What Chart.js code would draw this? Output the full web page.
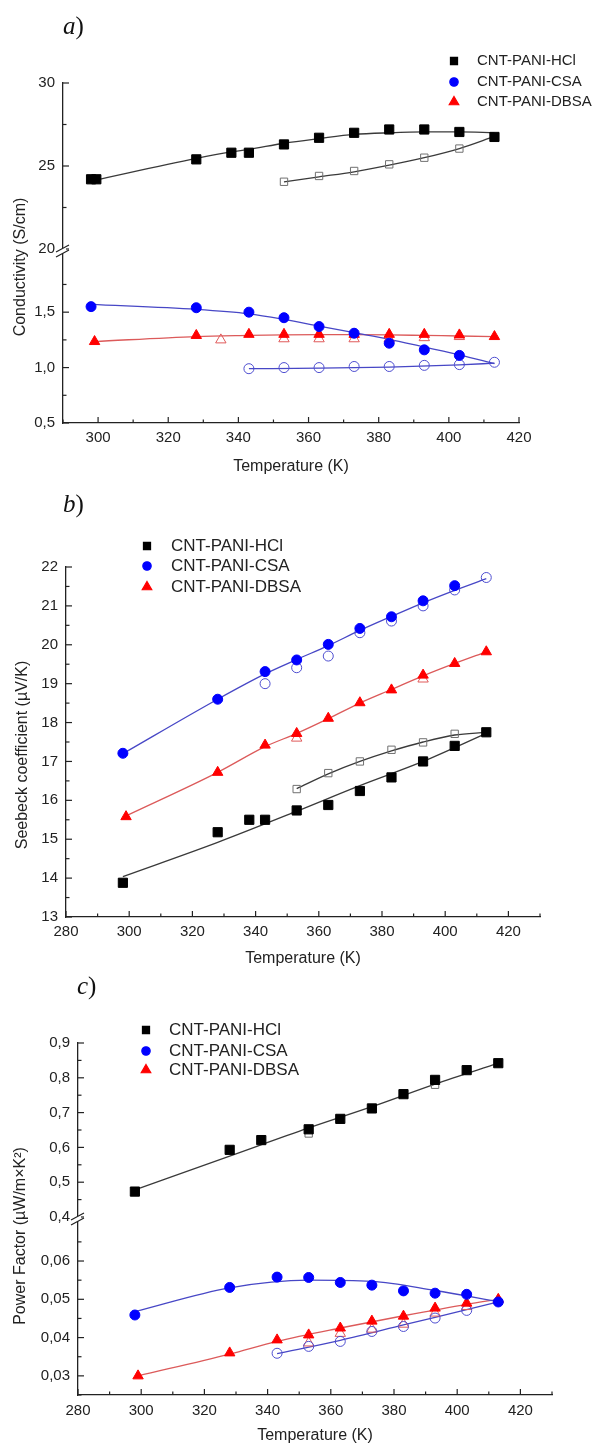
<!DOCTYPE html>
<html>
<head>
<meta charset="utf-8">
<script src="https://cdn.jsdelivr.net/npm/chart.js@4.4.1/dist/chart.umd.min.js"></script>
<style>
html, body { margin: 0; padding: 0; background: #fff; overflow: hidden; }
#page { position: relative; width: 603px; height: 1444px; }
canvas { position: absolute; left: 0; }
.tag { position: absolute; font-family: "Liberation Serif", "Times New Roman", serif; font-size: 25px; line-height: 25px; color: #111; }
</style>
</head>
<body>
<div id="page">
  <canvas id="chartA" width="603" height="480" style="top:0px"></canvas>
  <canvas id="chartB" width="603" height="490" style="top:480px"></canvas>
  <canvas id="chartC" width="603" height="474" style="top:970px"></canvas>
  <div class="tag" style="left:63px;top:13px"><i>a</i>)</div>
  <div class="tag" style="left:63px;top:491px"><i>b</i>)</div>
  <div class="tag" style="left:77px;top:973px"><i>c</i>)</div>
</div>
<script>
// ---- a) conductivity, S/cm ----
const tempA_HCl = [298, 299.5, 328, 338, 343, 353, 363, 373, 383, 393, 403, 413];
const condA_HCl = [24.2, 24.2, 25.4, 25.8, 25.8, 26.3, 26.7, 27.0, 27.2, 27.2, 27.05, 26.75];
const tempA_HCl_cool = [353, 363, 373, 383, 393, 403];
const condA_HCl_cool = [24.05, 24.4, 24.7, 25.1, 25.5, 26.05];
const fitTempA_HCl = [298.5, 328, 338, 343, 353, 363, 373, 383, 393, 403, 413];
const fitA_HCl = [24.12, 25.46, 25.85, 26.0, 26.37, 26.65, 26.9, 27.0, 27.05, 27.05, 27.0];
const fitTempA_HCl_cool = [353, 363, 373, 383, 393, 403, 413];
const fitA_HCl_cool = [24.05, 24.35, 24.65, 25.05, 25.5, 26.05, 26.78];

const tempA_CSA = [298, 328, 343, 353, 363, 373, 383, 393, 403];
const condA_CSA = [1.55, 1.54, 1.50, 1.45, 1.37, 1.31, 1.22, 1.16, 1.11];
const tempA_CSA_cool = [343, 353, 363, 373, 383, 393, 403, 413];
const condA_CSA_cool = [0.99, 1.0, 1.0, 1.01, 1.01, 1.02, 1.027, 1.048];
const fitTempA_CSA = [298, 328, 343, 353, 363, 373, 383, 393, 403, 413];
const fitA_CSA = [1.57, 1.525, 1.485, 1.435, 1.375, 1.315, 1.255, 1.185, 1.115, 1.035];
const fitTempA_CSA_cool = [343, 363, 383, 403, 413];
const fitA_CSA_cool = [0.99, 0.995, 1.005, 1.025, 1.04];

const tempA_DBSA = [299, 328, 343, 353, 363, 373, 383, 393, 403, 413];
const condA_DBSA = [1.235, 1.29, 1.30, 1.30, 1.30, 1.30, 1.30, 1.30, 1.295, 1.28];
const tempA_DBSA_cool = [335, 353, 363, 373, 383, 393, 403];
const condA_DBSA_cool = [1.25, 1.26, 1.26, 1.26, 1.26, 1.27, 1.28];
const fitTempA_DBSA = [299, 328, 343, 353, 363, 373, 383, 393, 403, 413];
const fitA_DBSA = [1.235, 1.28, 1.29, 1.295, 1.297, 1.297, 1.295, 1.29, 1.285, 1.28];

// ---- b) Seebeck coefficient, uV/K ----
const tempB_HCl = [298, 328, 338, 343, 353, 363, 373, 383, 393, 403, 413];
const seebB_HCl = [13.88, 15.18, 15.5, 15.5, 15.74, 15.88, 16.24, 16.59, 17.0, 17.4, 17.75];
const tempB_HCl_cool = [353, 363, 373, 383, 393, 403];
const seebB_HCl_cool = [16.29, 16.7, 17.0, 17.3, 17.49, 17.71];
const fitTempB_HCl = [298, 328, 353, 373, 393, 413];
const fitB_HCl = [14.04, 14.92, 15.72, 16.38, 17.0, 17.72];
const fitTempB_HCl_cool = [353, 363, 373, 383, 393, 403, 413];
const fitB_HCl_cool = [16.3, 16.68, 17.0, 17.27, 17.5, 17.68, 17.75];

const tempB_CSA = [298, 328, 343, 353, 363, 373, 383, 393, 403];
const seebB_CSA = [17.21, 18.6, 19.31, 19.61, 20.01, 20.42, 20.72, 21.13, 21.52];
const tempB_CSA_cool = [343, 353, 363, 373, 383, 393, 403, 413];
const seebB_CSA_cool = [19.0, 19.41, 19.71, 20.31, 20.61, 21.0, 21.41, 21.73];
const fitTempB_CSA = [298, 328, 343, 353, 363, 373, 383, 393, 403, 413];
const fitB_CSA = [17.2, 18.6, 19.25, 19.62, 19.98, 20.37, 20.73, 21.08, 21.4, 21.7];

const tempB_DBSA = [299, 328, 343, 353, 363, 373, 383, 393, 403, 413];
const seebB_DBSA = [15.58, 16.72, 17.42, 17.72, 18.11, 18.51, 18.84, 19.22, 19.52, 19.82];
const tempB_DBSA_cool = [353, 393];
const seebB_DBSA_cool = [17.6, 19.12];
const fitTempB_DBSA = [299, 328, 343, 353, 363, 373, 383, 393, 403, 413];
const fitB_DBSA = [15.6, 16.72, 17.38, 17.72, 18.1, 18.5, 18.85, 19.2, 19.52, 19.82];

// ---- c) power factor, uW/m*K^2 ----
const tempC_HCl = [298, 328, 338, 353, 363, 373, 383, 393, 403, 413];
const pfC_HCl = [0.473, 0.593, 0.621, 0.652, 0.682, 0.712, 0.753, 0.794, 0.822, 0.842];
const tempC_HCl_cool = [353, 393];
const pfC_HCl_cool = [0.64, 0.78];
const fitTempC_HCl = [298, 328, 353, 373, 393, 413];
const fitC_HCl = [0.478, 0.575, 0.656, 0.717, 0.782, 0.842];

const tempC_CSA = [298, 328, 343, 353, 363, 373, 383, 393, 403, 413];
const pfC_CSA = [0.0459, 0.0531, 0.0558, 0.0557, 0.0544, 0.0537, 0.0522, 0.0516, 0.0513, 0.0493];
const tempC_CSA_cool = [343, 353, 363, 373, 383, 393, 403];
const pfC_CSA_cool = [0.0359, 0.0377, 0.039, 0.0416, 0.0429, 0.0451, 0.0471];
const fitTempC_CSA = [298, 328, 353, 373, 393, 413];
const fitC_CSA = [0.0468, 0.0530, 0.0550, 0.0547, 0.0523, 0.0494];
const fitTempC_CSA_cool = [343, 363, 383, 403, 413];
const fitC_CSA_cool = [0.0358, 0.0393, 0.0433, 0.0473, 0.0493];

const tempC_DBSA = [299, 328, 343, 353, 363, 373, 383, 393, 403, 413];
const pfC_DBSA = [0.030, 0.036, 0.0394, 0.0407, 0.0425, 0.0443, 0.0456, 0.0477, 0.049, 0.050];
const tempC_DBSA_cool = [353, 363, 373, 383, 393, 403];
const pfC_DBSA_cool = [0.0386, 0.0411, 0.0422, 0.0435, 0.0464, 0.0481];
const fitTempC_DBSA = [299, 328, 343, 363, 383, 403, 413];
const fitC_DBSA = [0.030, 0.0357, 0.0390, 0.0425, 0.0457, 0.0487, 0.0500];

const LABELS = ['CNT-PANI-HCl', 'CNT-PANI-CSA', 'CNT-PANI-DBSA'];

const STY = {
    HCl:  { shape: 'rect',     fill: '#000000', open: '#707070', line: '#3a3a3a', r: 6.5, ro: 5.2, lr: 5 },
    CSA:  { shape: 'circle',   fill: '#0000ff', open: '#4d4dd0', line: '#4747c6', r: 5,   ro: 5,   lr: 4.2 },
    DBSA: { shape: 'triangle', fill: '#ff0000', open: '#e05a5a', line: '#dc5a5a', r: 6,   ro: 6,   lr: 5.5 }
};
const INK = '#222';
const FONT = '"Liberation Sans", Arial, sans-serif';
Chart.defaults.font.family = FONT;
Chart.defaults.color = INK;

function pts(xs, ys) {
    return xs.map((x, i) => ({ x: x, y: ys[i] }));
}

function filled(label, xs, ys, st, axis) {
    return { label: label, data: pts(xs, ys), yAxisID: axis, pointStyle: st.shape,
        pointRadius: st.r, pointHoverRadius: st.r, backgroundColor: st.fill, borderColor: st.fill,
        borderWidth: 1, showLine: false, order: 1, clip: false };
}

function open(xs, ys, st, axis) {
    return { label: '', data: pts(xs, ys), yAxisID: axis, pointStyle: st.shape,
        pointRadius: st.ro, pointHoverRadius: st.ro, backgroundColor: 'rgba(255,255,255,0)',
        borderColor: st.open, borderWidth: 1, showLine: false, order: 2, clip: false };
}

function fit(xs, ys, st, axis) {
    return { label: '', data: pts(xs, ys), yAxisID: axis, showLine: true, pointRadius: 0,
        pointHoverRadius: 0, borderColor: st.line, borderWidth: 1.3, tension: 0.4,
        cubicInterpolationMode: 'monotone', fill: false, order: 3 };
}

function xAxis(min, max, h, pad, titlePad, lh) {
    return {
        type: 'linear', position: 'bottom', min: min, max: max,
        grid: { display: false, drawTicks: false },
        border: { display: true, color: INK, width: 1.3 },
        ticks: { stepSize: 10, autoSkip: false, maxRotation: 0, minRotation: 0, padding: pad,
            font: { size: 15 }, color: INK,
            callback: v => (v % 20 === 0 ? String(v) : '') },
        title: { display: true, text: 'Temperature (K)', color: INK,
            font: { size: 16, lineHeight: lh }, padding: { top: 0, bottom: titlePad } },
        afterFit: s => { s.height = h; }
    };
}

function yAxis(min, max, step, w, cb, stack, weight) {
    const ax = {
        type: 'linear', position: 'left', min: min, max: max, offset: false,
        grid: { display: false, drawTicks: false },
        border: { display: true, color: INK, width: 1.3 },
        ticks: { stepSize: step, autoSkip: false, includeBounds: false, padding: 8,
            font: { size: 15 }, color: INK, callback: cb },
        title: { display: false },
        afterFit: s => { s.width = w; }
    };
    if (stack) {
        ax.stack = stack;
        ax.stackWeight = weight;
    }
    return ax;
}

// inward ticks, axis break marks, rotated y title and the legend
const decor = {
    id: 'decor',
    afterDraw(chart, args, o) {
        const ctx = chart.ctx;
        ctx.save();
        ctx.strokeStyle = INK;
        ctx.lineWidth = 1.2;
        Object.values(chart.scales).forEach(s => {
            s.ticks.forEach(t => {
                if (t.label === null || t.label === undefined) return;
                const len = t.label !== '' ? 6 : 3.5;
                const p = s.getPixelForValue(t.value);
                ctx.beginPath();
                if (s.isHorizontal()) {
                    ctx.moveTo(p, s.top);
                    ctx.lineTo(p, s.top - len);
                } else {
                    ctx.moveTo(s.right, p);
                    ctx.lineTo(s.right + len, p);
                }
                ctx.stroke();
            });
        });

        if (chart.scales.yTop) {
            const s = chart.scales.yTop;
            const x = s.right, y = s.bottom;
            ctx.fillStyle = '#fff';
            ctx.fillRect(x - 3, y - 1, 6, 5);
            ctx.beginPath();
            ctx.moveTo(x - 7, y + 3); ctx.lineTo(x + 6, y - 4);
            ctx.moveTo(x - 7, y + 8); ctx.lineTo(x + 6, y + 1);
            ctx.stroke();
        }

        ctx.save();
        ctx.translate(o.ytx, o.yty);
        ctx.rotate(-Math.PI / 2);
        ctx.font = '16px ' + FONT;
        ctx.fillStyle = INK;
        ctx.textAlign = 'center';
        ctx.textBaseline = 'middle';
        ctx.fillText(o.ytitle, 0, 0);
        ctx.restore();

        const styles = [STY.HCl, STY.CSA, STY.DBSA];
        ctx.font = o.lfont + 'px ' + FONT;
        ctx.textAlign = 'left';
        ctx.textBaseline = 'middle';
        LABELS.forEach((lab, i) => {
            const st = styles[i];
            const y = o.ly[i];
            ctx.fillStyle = st.fill;
            ctx.strokeStyle = st.fill;
            Chart.helpers.drawPoint(ctx, { pointStyle: st.shape, radius: st.lr, rotation: 0, borderWidth: 1 }, o.lx, y);
            ctx.fillStyle = INK;
            ctx.fillText(lab, o.ltx, y);
        });
        ctx.restore();
    }
};

function baseOptions(pad, scales, decorOpts) {
    return {
        responsive: false, animation: false, events: [],
        layout: { padding: pad },
        plugins: { legend: { display: false }, tooltip: { enabled: false }, decor: decorOpts },
        scales: scales
    };
}

const fmtA = v => {
    if (v > 1.9) return null;
    return Math.abs(v * 2 - Math.round(v * 2)) < 1e-6 ? v.toFixed(1).replace('.', ',') : '';
};
const fmtATop = v => (v % 5 === 0 ? String(v) : '');
const fmtB = v => (Number.isInteger(v) ? String(v) : '');
const fmtCTop = v => {
    const r = Math.round(v * 100);
    return r % 10 === 0 ? (r / 100).toFixed(1).replace('.', ',') : '';
};
const fmtC = v => {
    const r = Math.round(v * 1000);
    if (r > 66) return null;
    return r % 10 === 0 ? (r / 1000).toFixed(2).replace('.', ',') : '';
};

// stacked y axes: the first one listed ends up at the bottom
new Chart(document.getElementById('chartA'), {
    type: 'scatter',
    data: { datasets: [
        filled(LABELS[0], tempA_HCl, condA_HCl, STY.HCl, 'yTop'),
        filled(LABELS[1], tempA_CSA, condA_CSA, STY.CSA, 'yBot'),
        filled(LABELS[2], tempA_DBSA, condA_DBSA, STY.DBSA, 'yBot'),
        open(tempA_HCl_cool, condA_HCl_cool, STY.HCl, 'yTop'),
        open(tempA_CSA_cool, condA_CSA_cool, STY.CSA, 'yBot'),
        open(tempA_DBSA_cool, condA_DBSA_cool, STY.DBSA, 'yBot'),
        fit(fitTempA_HCl, fitA_HCl, STY.HCl, 'yTop'),
        fit(fitTempA_HCl_cool, fitA_HCl_cool, STY.HCl, 'yTop'),
        fit(fitTempA_CSA, fitA_CSA, STY.CSA, 'yBot'),
        fit(fitTempA_CSA_cool, fitA_CSA_cool, STY.CSA, 'yBot'),
        fit(fitTempA_DBSA, fitA_DBSA, STY.DBSA, 'yBot')
    ] },
    options: baseOptions({ left: 0, top: 83, right: 84, bottom: 0 }, {
        x: xAxis(290, 420, 57, 6, 4, 1.2),
        yBot: yAxis(0.5, 2.07, 0.25, 63, fmtA, 'a', 174),
        yTop: yAxis(20, 30, 2.5, 63, fmtATop, 'a', 166)
    }, { ytitle: 'Conductivity (S/cm)', ytx: 21, yty: 267, lx: 454, ltx: 477, ly: [61, 82, 102], lfont: 15 }),
    plugins: [decor]
});

new Chart(document.getElementById('chartB'), {
    type: 'scatter',
    data: { datasets: [
        filled(LABELS[0], tempB_HCl, seebB_HCl, STY.HCl, 'y'),
        filled(LABELS[1], tempB_CSA, seebB_CSA, STY.CSA, 'y'),
        filled(LABELS[2], tempB_DBSA, seebB_DBSA, STY.DBSA, 'y'),
        open(tempB_HCl_cool, seebB_HCl_cool, STY.HCl, 'y'),
        open(tempB_CSA_cool, seebB_CSA_cool, STY.CSA, 'y'),
        open(tempB_DBSA_cool, seebB_DBSA_cool, STY.DBSA, 'y'),
        fit(fitTempB_HCl, fitB_HCl, STY.HCl, 'y'),
        fit(fitTempB_HCl_cool, fitB_HCl_cool, STY.HCl, 'y'),
        fit(fitTempB_CSA, fitB_CSA, STY.CSA, 'y'),
        fit(fitTempB_DBSA, fitB_DBSA, STY.DBSA, 'y')
    ] },
    options: baseOptions({ left: 0, top: 87, right: 63, bottom: 0 }, {
        x: xAxis(280, 430, 53, 6, 2, 1.2),
        y: yAxis(13, 22, 0.5, 66, fmtB)
    }, { ytitle: 'Seebeck coefficient (\u00b5V/K)', ytx: 23, yty: 275, lx: 147, ltx: 171, ly: [66, 86, 107], lfont: 17 }),
    plugins: [decor]
});

new Chart(document.getElementById('chartC'), {
    type: 'scatter',
    data: { datasets: [
        filled(LABELS[0], tempC_HCl, pfC_HCl, STY.HCl, 'yTop'),
        filled(LABELS[1], tempC_CSA, pfC_CSA, STY.CSA, 'yBot'),
        filled(LABELS[2], tempC_DBSA, pfC_DBSA, STY.DBSA, 'yBot'),
        open(tempC_HCl_cool, pfC_HCl_cool, STY.HCl, 'yTop'),
        open(tempC_CSA_cool, pfC_CSA_cool, STY.CSA, 'yBot'),
        open(tempC_DBSA_cool, pfC_DBSA_cool, STY.DBSA, 'yBot'),
        fit(fitTempC_HCl, fitC_HCl, STY.HCl, 'yTop'),
        fit(fitTempC_CSA, fitC_CSA, STY.CSA, 'yBot'),
        fit(fitTempC_CSA_cool, fitC_CSA_cool, STY.CSA, 'yBot'),
        fit(fitTempC_DBSA, fitC_DBSA, STY.DBSA, 'yBot')
    ] },
    options: baseOptions({ left: 0, top: 73, right: 51, bottom: 0 }, {
        x: xAxis(280, 430, 49, 7, 0, 1.0),
        yBot: yAxis(0.025, 0.0715, 0.005, 78, fmtC, 'c', 178),
        yTop: yAxis(0.4, 0.9, 0.05, 78, fmtCTop, 'c', 174)
    }, { ytitle: 'Power Factor (\u00b5W/m\u00d7K\u00b2)', ytx: 21, yty: 266, lx: 146, ltx: 169, ly: [60, 81, 100], lfont: 17 }),
    plugins: [decor]
});
</script>
</body>
</html>
